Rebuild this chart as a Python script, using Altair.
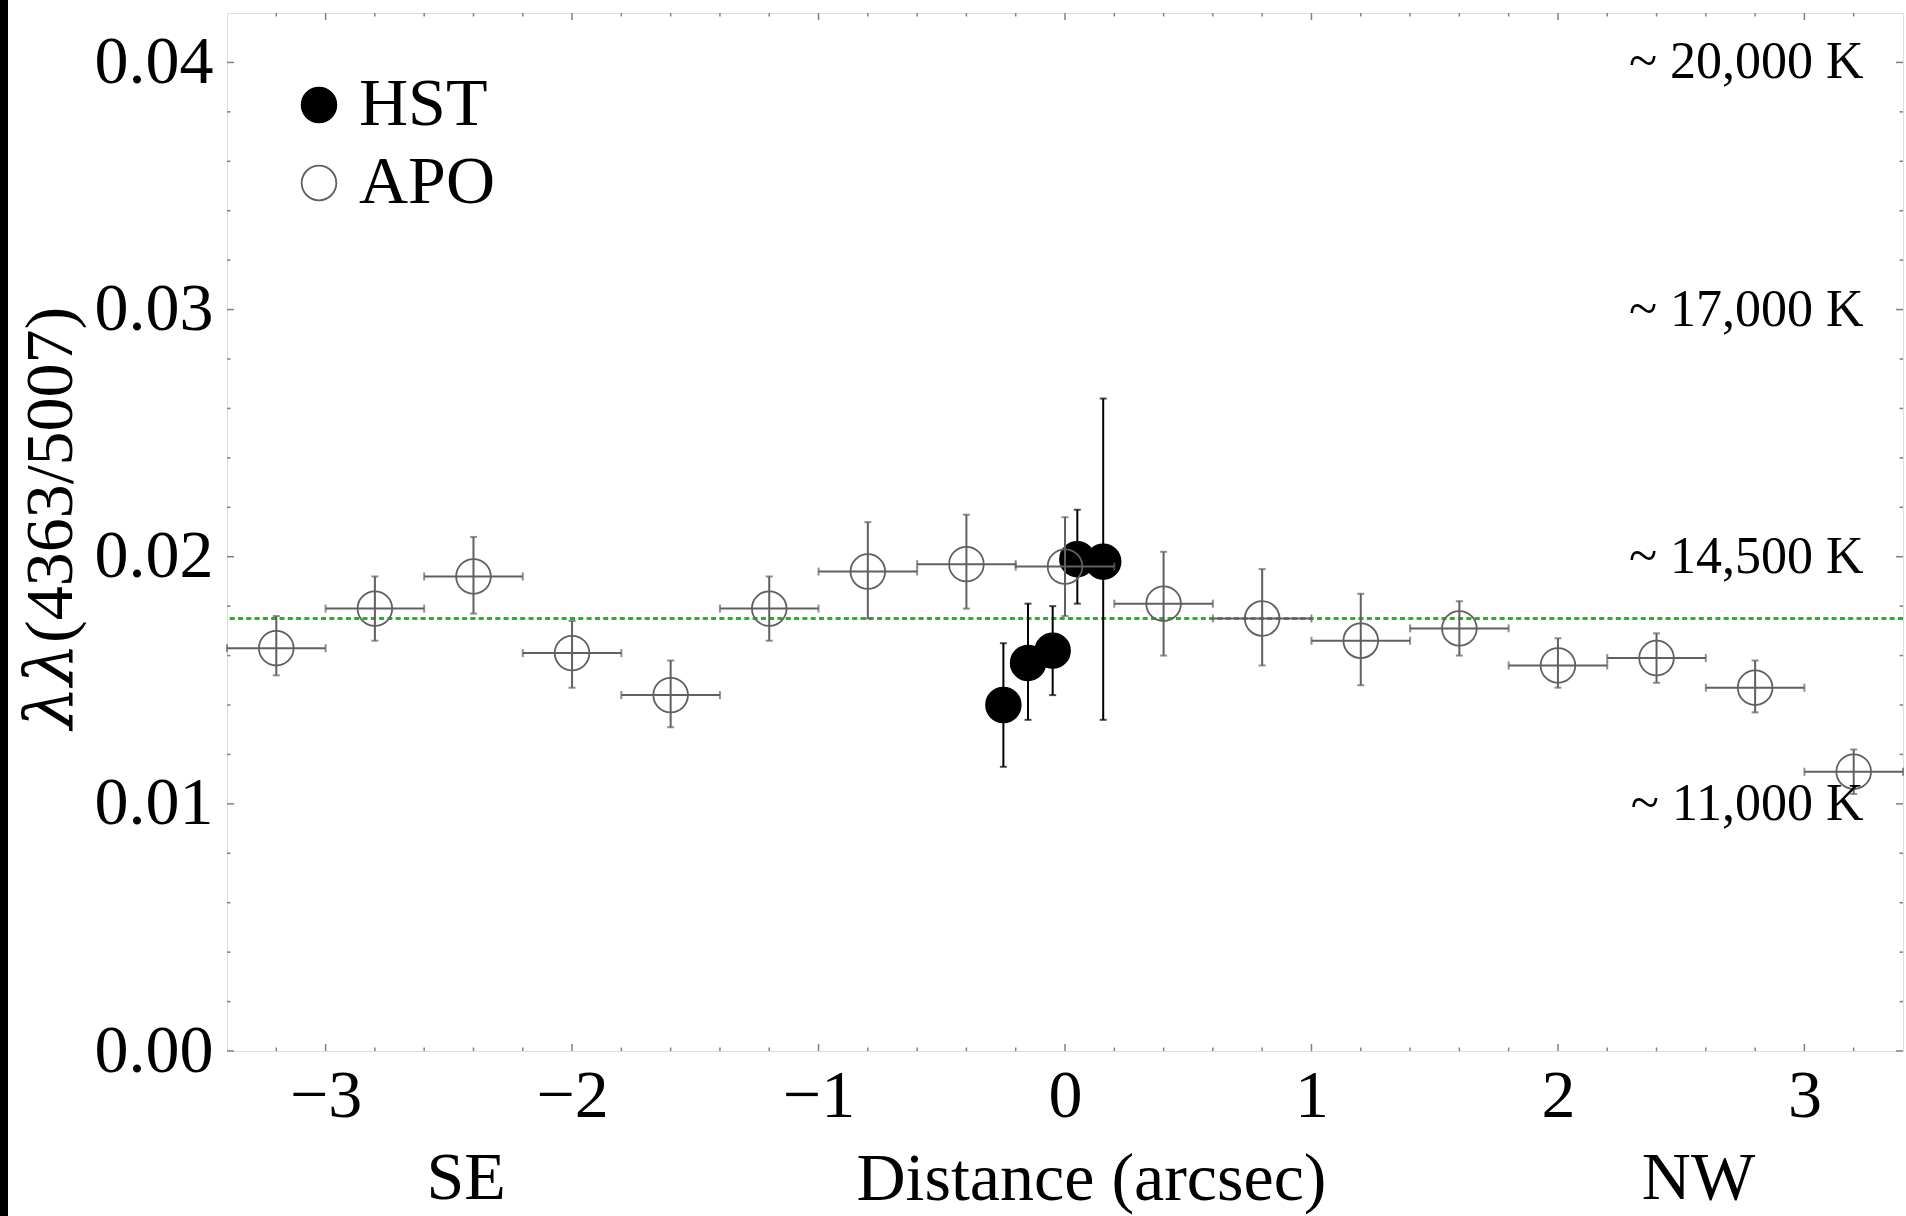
import altair as alt
import pandas as pd

# ---------------- data ----------------
apo_x = [-3.2, -2.8, -2.4, -2.0, -1.6, -1.2, -0.8, -0.4, 0.0, 0.4, 0.8, 1.2, 1.6, 2.0, 2.4, 2.8, 3.2]
apo_x_err = [0.2, 0.2, 0.2, 0.2, 0.2, 0.2, 0.2, 0.2, 0.2, 0.2, 0.2, 0.2, 0.2, 0.2, 0.2, 0.2, 0.2]
apo_y = [0.0163, 0.0179, 0.0192, 0.0161, 0.0144, 0.0179, 0.0194, 0.0197, 0.0196, 0.0181, 0.0175,
         0.0166, 0.0171, 0.0156, 0.0159, 0.0147, 0.0113]
apo_y_lo = [0.0152, 0.0166, 0.0177, 0.0147, 0.0131, 0.0166, 0.0175, 0.0179, 0.0176, 0.0160, 0.0156,
            0.0148, 0.0160, 0.0147, 0.0149, 0.0137, 0.0104]
apo_y_hi = [0.0176, 0.0192, 0.0208, 0.0174, 0.0158, 0.0192, 0.0214, 0.0217, 0.0216, 0.0202, 0.0195,
            0.0185, 0.0182, 0.0167, 0.0169, 0.0158, 0.0122]

hst_x = [-0.25, -0.15, -0.05, 0.05, 0.155]
hst_y = [0.0140, 0.0157, 0.0162, 0.0199, 0.0198]
hst_y_lo = [0.0115, 0.0134, 0.0144, 0.0181, 0.0134]
hst_y_hi = [0.0165, 0.0181, 0.0180, 0.0219, 0.0264]

mean_ratio = [0.0175]

temp_labels = ["~ 20,000 K", "~ 17,000 K", "~ 14,500 K", "~ 11,000 K"]
temp_ratio = [0.04, 0.03, 0.02, 0.01]

direction_labels = ["SE", "NW"]
direction_x = [-2.43, 2.57]

y_title_symbol = "λλ"
y_title_ratio = "(4363/5007)"

x_major = [-3, -2, -1, 0, 1, 2, 3]
x_minor = [-3.2, -2.8, -2.6, -2.4, -2.2, -1.8, -1.6, -1.4, -1.2, -0.8, -0.6, -0.4, -0.2,
           0.2, 0.4, 0.6, 0.8, 1.2, 1.4, 1.6, 1.8, 2.2, 2.4, 2.6, 2.8, 3.2]
y_major = [0.0, 0.01, 0.02, 0.03, 0.04]
y_minor = [0.002, 0.004, 0.006, 0.008, 0.012, 0.014, 0.016, 0.018, 0.022, 0.024, 0.026, 0.028,
           0.032, 0.034, 0.036, 0.038]

# ---------------- layout ----------------
W, H = 1676, 1038
FONT = "Liberation Serif"
TITLE_FONT = "Times New Roman, Liberation Serif, serif"
SYM_FONT = "DejaVu Serif, Liberation Serif, serif"
GRAY = "#606060"
FRAME = "#808080"

xs = alt.Scale(domain=[-3.4, 3.4], nice=False, zero=False)
ys = alt.Scale(domain=[0, 0.042], nice=False, zero=False)

x_axis = alt.Axis(
    values=x_major, ticks=False, domain=False, grid=False, labelFontSize=68, labelFont=FONT,
    labelColor="black", labelPadding=11, labelFlush=False,
    title="Distance (arcsec)", titleFont=FONT, titleFontSize=68, titleFontWeight="normal",
    titleColor="black", titleX=864, titleY=148, titleBaseline="alphabetic", titleAlign="center")
y_axis = alt.Axis(
    values=y_major, format=".2f", ticks=False, domain=False, grid=False, labelFontSize=68,
    labelFont=FONT, labelColor="black", labelPadding=14, labelFlush=False, title=None)

apo = pd.DataFrame({"x": apo_x, "xerr": apo_x_err, "y": apo_y, "lo": apo_y_lo, "hi": apo_y_hi,
                    "series": ["APO"] * len(apo_x)})
apo["xl"] = apo["x"] - apo["xerr"]
apo["xh"] = apo["x"] + apo["xerr"]
hst = pd.DataFrame({"x": hst_x, "y": hst_y, "lo": hst_y_lo, "hi": hst_y_hi,
                    "series": ["HST"] * len(hst_x)})

X = lambda f: alt.X(f, type="quantitative", scale=xs, axis=x_axis)
Y = lambda f: alt.Y(f, type="quantitative", scale=ys, axis=y_axis)

# inward ticks on all four sides
def xticks(vals, length, side):
    y0 = H if side == "bottom" else 0
    y1 = H - length if side == "bottom" else length
    return alt.Chart(pd.DataFrame({"v": vals})).mark_rule(color=FRAME, strokeWidth=1.5).encode(
        x=X("v"), y=alt.value(y0), y2=alt.value(y1))

def yticks(vals, length, side):
    x0 = 0 if side == "left" else W
    x1 = length if side == "left" else W - length
    return alt.Chart(pd.DataFrame({"v": vals})).mark_rule(color=FRAME, strokeWidth=1.5).encode(
        y=Y("v"), x=alt.value(x0), x2=alt.value(x1))

ticks = [xticks(x_major, 7, "bottom"), xticks(x_minor, 3.5, "bottom"),
         xticks(x_major, 7, "top"), xticks(x_minor, 3.5, "top"),
         yticks(y_major, 7, "left"), yticks(y_minor, 3.5, "left"),
         yticks(y_major, 7, "right"), yticks(y_minor, 3.5, "right")]

# mean ratio line
mean_line = alt.Chart(pd.DataFrame({"m": mean_ratio})).mark_rule(
    color="#22b522", strokeWidth=3, strokeDash=[5, 3.3]).encode(y=Y("m"))

# legend
legend = alt.Legend(orient="none", legendX=58, legendY=58, title=None, labelFontSize=68,
                    labelFont=FONT, labelColor="black", symbolSize=1200, symbolStrokeWidth=1.8,
                    labelOffset=6, rowPadding=10, padding=0, symbolType="circle")
fill_enc = alt.Fill("series:N", scale=alt.Scale(domain=["HST", "APO"], range=["black", "transparent"]),
                    legend=legend)
stroke_enc = alt.Stroke("series:N", scale=alt.Scale(domain=["HST", "APO"], range=["black", GRAY]),
                        legend=legend)

# HST
hst_bar = alt.Chart(hst).mark_rule(color="black", strokeWidth=2).encode(x=X("x"), y=Y("lo"), y2="hi")
hst_cap_lo = alt.Chart(hst).mark_tick(color="black", orient="horizontal", size=7, thickness=2).encode(
    x=X("x"), y=Y("lo"))
hst_cap_hi = alt.Chart(hst).mark_tick(color="black", orient="horizontal", size=7, thickness=2).encode(
    x=X("x"), y=Y("hi"))
hst_pts = alt.Chart(hst).mark_point(shape="circle", size=1200, filled=True, opacity=1,
                                    strokeWidth=1.8).encode(
    x=X("x"), y=Y("y"), fill=fill_enc, stroke=stroke_enc)

# APO
apo_vbar = alt.Chart(apo).mark_rule(color=GRAY, strokeWidth=2).encode(x=X("x"), y=Y("lo"), y2="hi")
apo_hbar = alt.Chart(apo).mark_rule(color=GRAY, strokeWidth=2).encode(x=X("xl"), x2="xh", y=Y("y"))
apo_cap_lo = alt.Chart(apo).mark_tick(color=GRAY, orient="horizontal", size=7, thickness=2).encode(
    x=X("x"), y=Y("lo"))
apo_cap_hi = alt.Chart(apo).mark_tick(color=GRAY, orient="horizontal", size=7, thickness=2).encode(
    x=X("x"), y=Y("hi"))
apo_cap_l = alt.Chart(apo).mark_tick(color=GRAY, orient="vertical", size=8, thickness=2).encode(
    x=X("xl"), y=Y("y"))
apo_cap_r = alt.Chart(apo).mark_tick(color=GRAY, orient="vertical", size=8, thickness=2).encode(
    x=X("xh"), y=Y("y"))
apo_pts = alt.Chart(apo).mark_point(shape="circle", size=1200, filled=True, opacity=1,
                                    strokeWidth=1.8).encode(
    x=X("x"), y=Y("y"), fill=fill_enc, stroke=stroke_enc)

# temperature annotations
temps = alt.Chart(pd.DataFrame({"t": temp_labels, "r": temp_ratio})).mark_text(
    font=FONT, fontSize=52, align="right", baseline="middle", color="black").encode(
    x=alt.datum(3.24, scale=xs, axis=x_axis), y=Y("r"), text="t:N")

# SE / NW under the axis
dirs = alt.Chart(pd.DataFrame({"d": direction_labels, "x": direction_x})).mark_text(
    font=FONT, fontSize=68, align="center", baseline="alphabetic", color="black").encode(
    x=X("x"), y=alt.value(H + 148), text="d:N")

# y-axis title: italic lambdas + upright ratio, rotated, joined at one point
ytitle_sym = alt.Chart(pd.DataFrame({"t": [y_title_symbol]})).mark_text(
    font=SYM_FONT, fontSize=68, fontStyle="italic", angle=270, align="right", baseline="alphabetic",
    color="black").encode(x=alt.value(-155), y=alt.value(630), text="t:N")
ytitle_ratio = alt.Chart(pd.DataFrame({"t": [y_title_ratio]})).mark_text(
    font=TITLE_FONT, fontSize=68, angle=270, align="left", baseline="alphabetic",
    color="black").encode(x=alt.value(-155), y=alt.value(630), text="t:N")

# black strip on the left edge of the scan
strip = alt.Chart(pd.DataFrame({"a": [0]})).mark_rect(color="black").encode(
    x=alt.value(-227), x2=alt.value(-219), y=alt.value(-13), y2=alt.value(H + 165))

chart = alt.layer(
    strip, *ticks, mean_line,
    hst_bar, hst_cap_lo, hst_cap_hi, hst_pts,
    apo_vbar, apo_hbar, apo_cap_lo, apo_cap_hi, apo_cap_l, apo_cap_r, apo_pts,
    temps, dirs, ytitle_sym, ytitle_ratio,
).properties(
    width=W, height=H,
    autosize=alt.AutoSizeParams(type="none"),
    padding={"left": 227, "top": 13, "right": 3, "bottom": 165},
    background="white",
).configure_view(stroke=FRAME, strokeWidth=1.5).configure(font=FONT).configure_axis(
    titleFont=FONT, labelFont=FONT)

chart.save("out.html", embed_options={"renderer": "svg", "actions": False})
